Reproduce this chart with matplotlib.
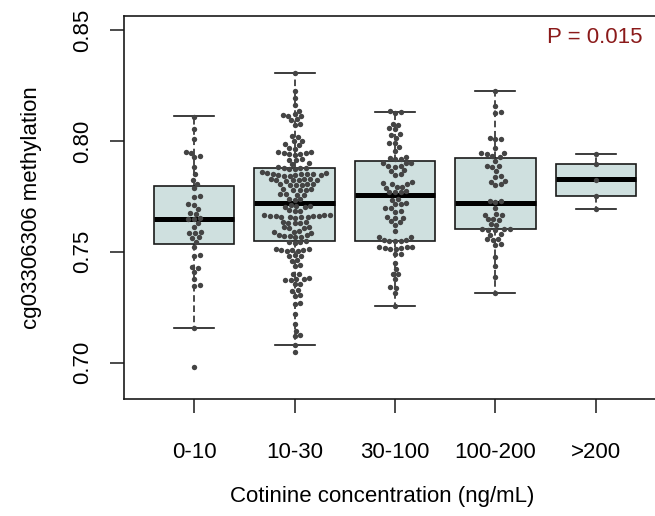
import numpy as np
import matplotlib
matplotlib.use("Agg")
import matplotlib.pyplot as plt

plt.rcParams['font.family'] = ['Liberation Sans', 'DejaVu Sans']

# groups on the x axis
groups = ['0-10', '10-30', '30-100', '100-200', '>200']

# methylation values, one list per group
g_0_10 = [0.8110, 0.8052, 0.8008, 0.7949, 0.7947, 0.7931, 0.7926, 0.7884, 0.7850,
          0.7826, 0.7808, 0.7786, 0.7752, 0.7747, 0.7716, 0.7712, 0.7695, 0.7676,
          0.7672, 0.7653, 0.7650, 0.7648, 0.7630, 0.7610, 0.7590, 0.7587, 0.7584,
          0.7566, 0.7562, 0.7545, 0.7521, 0.7487, 0.7483, 0.7431, 0.7428, 0.7408,
          0.7378, 0.7349, 0.7345, 0.7156, 0.6980]

g_10_30 = [0.8305, 0.8226, 0.8193, 0.8163, 0.8136,
           0.8122, 0.8118, 0.8115, 0.8112, 0.8098, 0.8094, 0.8078, 0.8074,
           0.8023, 0.8019, 0.8002, 0.7999, 0.7986, 0.7982, 0.7968, 0.7964,
           0.7952, 0.7949, 0.7947, 0.7945, 0.7943, 0.7941, 0.7938,
           0.7918, 0.7915, 0.7913, 0.7899, 0.7896,
           0.7882, 0.7880, 0.7878, 0.7877, 0.7875, 0.7873,
           0.7858, 0.7856, 0.7855, 0.7853, 0.7852, 0.7851, 0.7850, 0.7848,
           0.7847, 0.7845, 0.7843, 0.7842,
           0.7830, 0.7828, 0.7827, 0.7826, 0.7825, 0.7823, 0.7822, 0.7820,
           0.7808, 0.7806, 0.7804, 0.7803, 0.7801, 0.7800,
           0.7785, 0.7783, 0.7781, 0.7779, 0.7777,
           0.7762, 0.7760, 0.7758, 0.7756, 0.7740, 0.7737, 0.7735,
           0.7712, 0.7709, 0.7706, 0.7704, 0.7701,
           0.7688, 0.7685, 0.7682,
           0.7668, 0.7666, 0.7665, 0.7663, 0.7662, 0.7661, 0.7660, 0.7659,
           0.7657, 0.7656, 0.7655, 0.7653,
           0.7635, 0.7633, 0.7631, 0.7630, 0.7628,
           0.7612, 0.7610, 0.7608, 0.7606, 0.7593, 0.7591, 0.7589, 0.7587,
           0.7576, 0.7574, 0.7572, 0.7571, 0.7569, 0.7567,
           0.7548, 0.7546, 0.7544, 0.7542,
           0.7513, 0.7511, 0.7510, 0.7508, 0.7506, 0.7505, 0.7503,
           0.7484, 0.7482, 0.7480, 0.7462, 0.7458, 0.7439, 0.7436,
           0.7402, 0.7399, 0.7380, 0.7378, 0.7376, 0.7374, 0.7372,
           0.7357, 0.7354, 0.7327, 0.7324, 0.7304, 0.7301, 0.7267, 0.7264,
           0.7220, 0.7175, 0.7145, 0.7125, 0.7121, 0.7078, 0.7048]

g_30_100 = [0.8135, 0.8131, 0.8128, 0.8078, 0.8074, 0.8057, 0.8053, 0.8033, 0.8029,
            0.8014, 0.7993, 0.7989, 0.7971, 0.7953,
            0.7926, 0.7924, 0.7921, 0.7918, 0.7903, 0.7901, 0.7899,
            0.7888, 0.7886, 0.7884, 0.7868, 0.7865, 0.7850, 0.7847,
            0.7813, 0.7811, 0.7808, 0.7806, 0.7794, 0.7792, 0.7790,
            0.7773, 0.7771, 0.7770, 0.7768, 0.7739, 0.7736,
            0.7719, 0.7717, 0.7714, 0.7700, 0.7697, 0.7683, 0.7680,
            0.7656, 0.7654, 0.7651, 0.7637, 0.7634, 0.7621, 0.7594,
            0.7568, 0.7565, 0.7555, 0.7553, 0.7551, 0.7549, 0.7547,
            0.7523, 0.7521, 0.7520, 0.7518, 0.7517, 0.7515, 0.7513,
            0.7491, 0.7488, 0.7448, 0.7422, 0.7401, 0.7398, 0.7377,
            0.7341, 0.7338, 0.7313, 0.7257]

g_100_200 = [0.8226, 0.8156, 0.8132, 0.8128, 0.8012, 0.8010, 0.8007, 0.7969,
             0.7948, 0.7945, 0.7943, 0.7932, 0.7929, 0.7912,
             0.7888, 0.7886, 0.7883, 0.7864, 0.7842, 0.7839, 0.7820, 0.7817,
             0.7805, 0.7802, 0.7731, 0.7728, 0.7726, 0.7696,
             0.7670, 0.7668, 0.7666, 0.7648, 0.7646, 0.7644, 0.7625, 0.7622,
             0.7604, 0.7602, 0.7601, 0.7599, 0.7597, 0.7580, 0.7577,
             0.7558, 0.7556, 0.7554, 0.7535, 0.7532,
             0.7478, 0.7437, 0.7385, 0.7313]

g_200 = [0.7940, 0.7897, 0.7825, 0.7751, 0.7692]

values = [g_0_10, g_10_30, g_30_100, g_100_200, g_200]

# box statistics as drawn in the original
q1 = [0.7536, 0.7549, 0.7547, 0.7602, 0.7751]
med = [0.7650, 0.7722, 0.7756, 0.7722, 0.7827]
q3 = [0.7799, 0.7877, 0.7909, 0.7924, 0.7897]
whislo = [0.7156, 0.7078, 0.7257, 0.7313, 0.7692]
whishi = [0.8111, 0.8305, 0.8133, 0.8226, 0.7940]

p_text = 'P = 0.015'


def swarm(ypix, d):
    # simple beeswarm ("swarm" method, ascending priority), pixel units
    order = np.argsort(ypix, kind='stable')
    xs = np.zeros(len(ypix))
    placed = []
    for i in order:
        yi = ypix[i]
        near = [j for j in placed if abs(ypix[j] - yi) < d]
        cands = [0.0]
        for j in near:
            dx = np.sqrt(d * d - (ypix[j] - yi) ** 2)
            cands += [xs[j] + dx, xs[j] - dx]
        ok = [c for c in cands
              if all((c - xs[j]) ** 2 + (ypix[j] - yi) ** 2 >= d * d - 1e-6 for j in near)]
        xs[i] = min(ok, key=abs)
        placed.append(i)
    return xs


W, H = 655, 516
fig = plt.figure(figsize=(W / 100, H / 100), dpi=100)
ax = fig.add_axes([124 / W, (H - 399) / H, 542 / W, 383 / H])
ax.set_xlim(0.3, 5.7)
ax.set_ylim(0.6836, 0.8564)

pos = np.arange(1, len(groups) + 1)
stats = [dict(q1=q1[i], med=med[i], q3=q3[i], whislo=whislo[i], whishi=whishi[i])
         for i in range(len(groups))]
ax.bxp(stats, positions=pos, widths=0.8, capwidths=0.4, patch_artist=True,
       showfliers=False,
       boxprops=dict(facecolor='#cfe0df', edgecolor='#1a1a1a', linewidth=1.2),
       medianprops=dict(color='black', linewidth=3.6, solid_capstyle='butt'),
       whiskerprops=dict(color='#1a1a1a', linewidth=1.1, linestyle=(0, (4.3, 2.4))),
       capprops=dict(color='#1a1a1a', linewidth=1.2))

# beeswarm offsets computed in display pixels
fig.canvas.draw()
px_per_x = ax.transData.transform((1, 0))[0] - ax.transData.transform((0, 0))[0]
for k, vals in enumerate(values):
    v = np.array(vals)
    ypix = ax.transData.transform(np.column_stack([np.zeros_like(v), v]))[:, 1]
    off = swarm(ypix, 5.6)
    ax.scatter(pos[k] + off / px_per_x, v, s=15, color='#444444', linewidths=0, zorder=4)

ax.set_yticks([0.70, 0.75, 0.80, 0.85])
ax.set_yticklabels(['0.70', '0.75', '0.80', '0.85'], rotation=90, va='center')
ax.set_xticks(pos)
ax.set_xticklabels(groups)
ax.tick_params(axis='both', length=10, width=1.1, labelsize=16, color='#1a1a1a')
ax.tick_params(axis='y', pad=12)
ax.tick_params(axis='x', pad=21)
for s in ax.spines.values():
    s.set_linewidth(1.2)
    s.set_color('#1a1a1a')

ax.set_ylabel('cg03306306 methylation', fontsize=16)
ax.yaxis.set_label_coords((42 - 124) / 542, 0.5)
ax.set_xlabel('Cotinine concentration (ng/mL)', fontsize=16)
ax.xaxis.set_label_coords((382 - 124) / 542, -(486 - 399) / 383)

ax.text((643 - 124) / 542, (399 - 37.5) / 383, p_text, transform=ax.transAxes,
        ha='right', va='center', fontsize=16, color='#8b1a1a')

fig.savefig('out.png', dpi=100)
